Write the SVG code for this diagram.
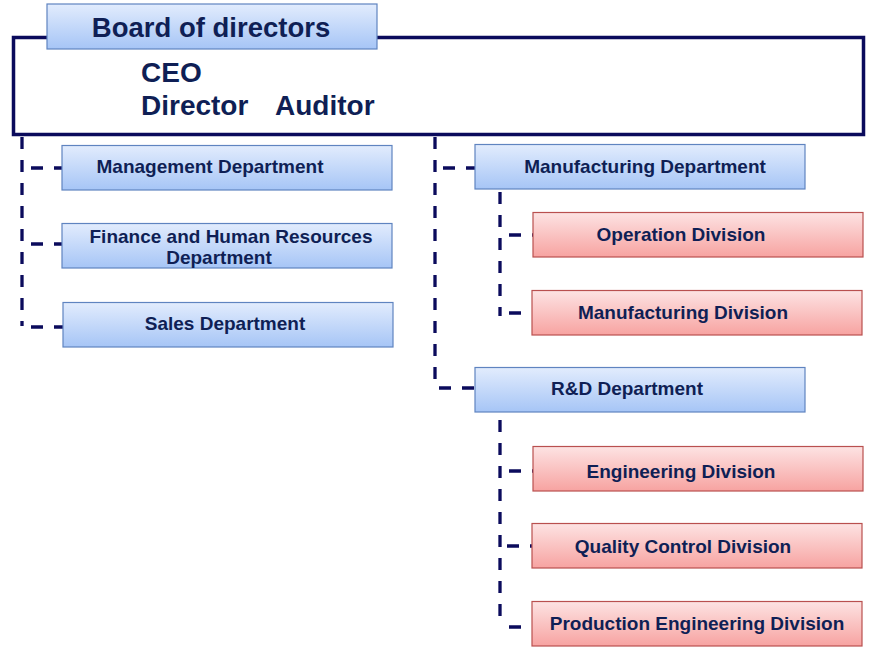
<svg xmlns="http://www.w3.org/2000/svg" width="881" height="661" viewBox="0 0 881 661">
<defs>
<linearGradient id="gb" x1="0" y1="0" x2="0" y2="1">
<stop offset="0" stop-color="#e2ecfd"/>
<stop offset="1" stop-color="#a6c5f6"/>
</linearGradient>
<linearGradient id="gr" x1="0" y1="0" x2="0" y2="1">
<stop offset="0" stop-color="#fde3e3"/>
<stop offset="1" stop-color="#f7a3a1"/>
</linearGradient>
<style>
.b{fill:url(#gb);stroke:#5f84c0;stroke-width:1.2}
.r{fill:url(#gr);stroke:#b9504f;stroke-width:1.2}
.t{font-family:"Liberation Sans",Arial,sans-serif;font-weight:bold;fill:#0f1f55;font-size:19px;text-anchor:middle}
.h{font-family:"Liberation Sans",Arial,sans-serif;font-weight:bold;fill:#0f1f55;font-size:28px}
.c{fill:none;stroke:#0b0b5c;stroke-width:3.3;stroke-dasharray:12 11}
</style>
</defs>
<rect width="881" height="661" fill="#ffffff"/>
<g id="top">
<rect x="13.5" y="37.5" width="850" height="97" fill="#ffffff" stroke="#0b0b5c" stroke-width="3.5"/>
<text class="h" x="141" y="82">CEO</text>
<text class="h" x="141" y="115">Director</text>
<text class="h" x="275" y="115">Auditor</text>
</g>
<g id="board">
<rect class="b" x="47" y="4" width="330" height="45"/>
<text class="h" x="211" y="37" text-anchor="middle" style="font-size:27.5px">Board of directors</text>
</g>
<g id="connectors">
<path class="c" d="M22 137V326"/>
<path class="c" d="M31 168H62M31 244H62M31 327H63"/>
<path class="c" d="M435 137V388"/>
<path class="c" d="M443 168H475M439 388H475"/>
<path class="c" d="M500 192V316"/>
<path class="c" d="M509 235H534M509 313H532"/>
<path class="c" d="M500 420V618"/>
<path class="c" d="M509 471H533M507 546H532M509 627H532"/>
</g>
<g id="management"><rect class="b" x="62" y="145.5" width="330" height="44.5"/><text class="t" x="210" y="173">Management Department</text></g>
<g id="finance"><rect class="b" x="62" y="223.5" width="330" height="44.5"/><text class="t" x="231" y="243">Finance and Human Resources</text><text class="t" x="219" y="264">Department</text></g>
<g id="sales"><rect class="b" x="63" y="302.5" width="330" height="44.5"/><text class="t" x="225" y="330">Sales Department</text></g>
<g id="manufacturing-dept"><rect class="b" x="475" y="144.5" width="330" height="44.5"/><text class="t" x="645" y="173">Manufacturing Department</text></g>
<g id="operation"><rect class="r" x="533" y="212.5" width="330" height="44.5"/><text class="t" x="681" y="241">Operation Division</text></g>
<g id="manufacturing-div"><rect class="r" x="532" y="290.5" width="330" height="44.5"/><text class="t" x="683" y="319">Manufacturing Division</text></g>
<g id="rd"><rect class="b" x="475" y="367.5" width="330" height="44.5"/><text class="t" x="627" y="395">R&amp;D Department</text></g>
<g id="engineering"><rect class="r" x="533" y="446.5" width="330" height="44.5"/><text class="t" x="681" y="478">Engineering Division</text></g>
<g id="quality"><rect class="r" x="532" y="523.5" width="330" height="44.5"/><text class="t" x="683" y="553">Quality Control Division</text></g>
<g id="production"><rect class="r" x="532" y="601.5" width="330" height="44.5"/><text class="t" x="697" y="630">Production Engineering Division</text></g>
</svg>
